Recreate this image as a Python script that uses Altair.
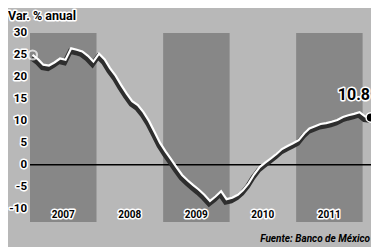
import altair as alt
import pandas as pd

# ---- data ----
start_month = "2007-01-01"
values = [
    25.0, 24.0, 22.8, 22.6, 23.3, 24.2, 23.9, 26.5, 26.2, 25.8, 24.8, 23.5,   # 2007
    25.3, 24.0, 22.0, 20.3, 18.2, 16.2, 14.5, 13.6, 12.0, 10.0, 7.5, 5.0,     # 2008
    3.0, 1.2, -0.5, -2.3, -3.5, -4.6, -5.6, -6.8, -8.2, -7.2, -6.0, -7.8,     # 2009
    -7.5, -6.8, -5.8, -4.2, -2.2, -0.5, 0.5, 1.5, 2.5, 3.6, 4.3, 4.9,        # 2010
    5.6, 7.2, 8.3, 8.8, 9.3, 9.5, 9.8, 10.2, 10.9, 11.3, 11.6, 12.0,          # 2011
    11.0, 10.8,                                                              # 2012
]
years = ["2007", "2008", "2009", "2010", "2011"]
shaded_years = ["2007", "2009", "2011"]
y_ticks = [30, 25, 20, 15, 10, 5, 0, -5, -10]
last_label = "10.8"
unit_label = "Var. % anual"
source_label = "Fuente: Banco de México"

dates = (pd.date_range(start_month, periods=len(values), freq="MS") + pd.Timedelta(days=14)).strftime("%Y-%m-%d")
df = pd.DataFrame({"fecha": list(dates), "valor": values})
df_first = df.iloc[[0]]
df_last = df.iloc[[-1]].assign(label=last_label)

bands = pd.DataFrame({
    "ini": [f"{y}-01-01" for y in shaded_years],
    "fin": [f"{int(y)+1}-01-01" for y in shaded_years],
})
year_lab = pd.DataFrame({"mid": [f"{y}-07-02" for y in years], "anio": years, "pos": [-11.3] * len(years)})
yt = pd.DataFrame({"v": y_ticks, "t": [str(v) for v in y_ticks]})

W, H = 341, 189
FONT = "Roboto, Liberation Sans, sans-serif"

xs = alt.Scale(domain=["2007-01-01", "2012-02-16"])
ys = alt.Scale(domain=[-13, 30])
X = lambda f: alt.X(f, type="temporal", scale=xs, axis=None)
Y = lambda f: alt.Y(f, type="quantitative", scale=ys, axis=None)

band_layer = alt.Chart(bands).mark_rect(color="#878787").encode(
    x=X("ini"), x2="fin", y=alt.value(0), y2=alt.value(H)
)

zero = alt.Chart(pd.DataFrame({"z": [0]})).mark_rule(color="#000000", strokeWidth=1.5).encode(
    y=Y("z"), x=alt.value(0), x2=alt.value(W)
)

shadow = alt.Chart(df).mark_line(color="#2e2e2e", strokeWidth=5, yOffset=3, xOffset=-1).encode(
    x=X("fecha"), y=Y("valor")
)
line = alt.Chart(df).mark_line(color="#ffffff", strokeWidth=2.2).encode(
    x=X("fecha"), y=Y("valor")
)
first_pt = alt.Chart(df_first).mark_point(filled=False, stroke="#ffffff", strokeWidth=2.2, size=80, shape="circle").encode(
    x=X("fecha"), y=Y("valor")
)
last_pt = alt.Chart(df_last).mark_point(filled=True, fill="#000000", stroke="#ffffff", strokeWidth=1.5, size=90, opacity=1, shape="circle").encode(
    x=X("fecha"), y=Y("valor")
)

def halo_text(data, enc, **kw):
    base = alt.Chart(data)
    h = base.mark_text(stroke="#ffffff", strokeWidth=3, fill="#000000", strokeJoin="round", **kw).encode(**enc)
    t = base.mark_text(fill="#000000", **kw).encode(**enc)
    return h + t

last_txt = halo_text(df_last, dict(x=alt.value(W - 1), y=Y("valor"), text="label:N"),
                     font=FONT, fontSize=16, fontWeight="bold", align="right", baseline="middle", dy=-22)

year_txt = halo_text(year_lab, dict(x=X("mid"), y=Y("pos"), text="anio:N"),
                     font=FONT, fontSize=10, fontWeight="bold", align="center", baseline="middle")

ytick_txt = halo_text(yt, dict(x=alt.value(-3), y=Y("v"), text="t:N"),
                      font=FONT, fontSize=11.5, fontWeight="bold", align="right", baseline="middle")

unit_txt = halo_text(pd.DataFrame({"t": [unit_label]}), dict(x=alt.value(-22), y=alt.value(-17), text="t:N"),
                     font=FONT, fontSize=12.5, fontWeight="bold", align="left", baseline="middle")

src_txt = alt.Chart(pd.DataFrame({"t": [source_label]})).mark_text(
    font=FONT, fontSize=10, fontWeight="bold", fontStyle="italic", align="right", baseline="middle", fill="#000000"
).encode(x=alt.value(W - 1), y=alt.value(206), text="t:N")

chart = alt.layer(
    band_layer, zero, shadow, line, first_pt, last_pt, last_txt, year_txt, ytick_txt, unit_txt, src_txt
).properties(
    width=W, height=H,
    autosize=alt.AutoSizeParams(type="none"),
    padding={"left": 22, "top": 25, "right": 0, "bottom": 25},
    background="#b8b8b8",
).configure_view(stroke=None, fill="#b8b8b8")

chart.save("out.html", embed_options={"renderer": "svg", "actions": False})
